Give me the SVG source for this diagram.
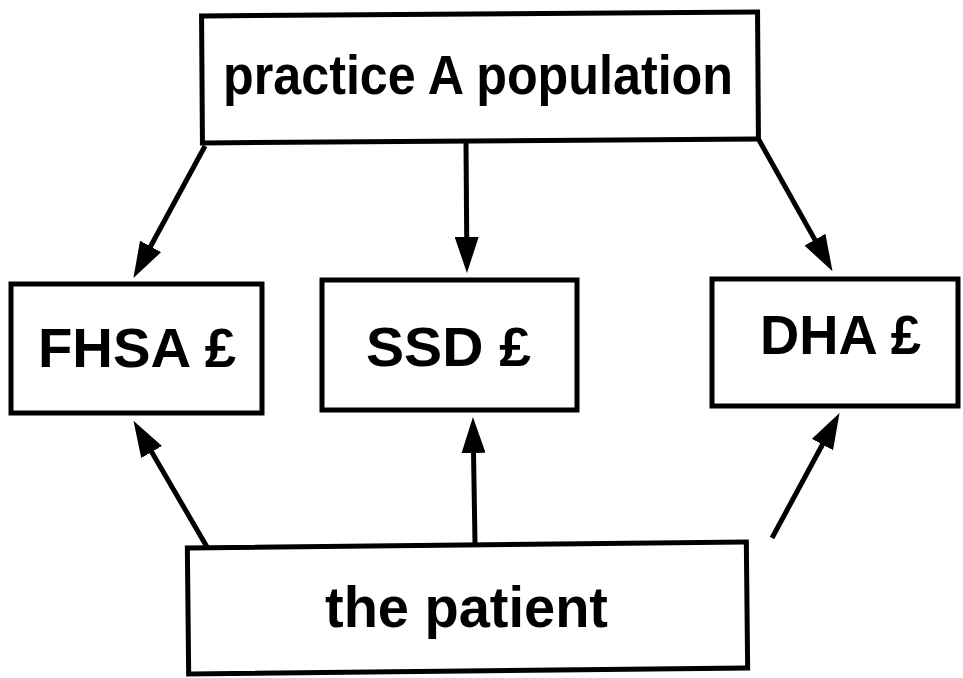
<svg xmlns="http://www.w3.org/2000/svg" width="963" height="678" viewBox="0 0 963 678">
  <style>
    .box { fill: #fff; stroke: #000; stroke-width: 5; }
    .label { font-family: "Liberation Sans", Arial, Helvetica, sans-serif; font-weight: bold; fill: #000; }
    .conn { stroke: #000; stroke-width: 5; fill: none; marker-end: url(#head); }
  </style>
  <defs>
    <marker id="head" viewBox="0 0 36 24" refX="1" refY="12" markerWidth="36" markerHeight="24" markerUnits="userSpaceOnUse" orient="auto">
      <path d="M0,0 L36,12 L0,24 Z" fill="#000"/>
    </marker>
  </defs>
  <rect width="963" height="678" fill="#fff"/>

  <g id="connectors">
    <line class="conn" x1="205" y1="146" x2="150.1" y2="247.3"/>
    <line class="conn" x1="466" y1="141" x2="466.7" y2="238"/>
    <line class="conn" x1="759" y1="140" x2="815.4" y2="240.6"/>
    <line class="conn" x1="207" y1="547" x2="151.1" y2="451.1"/>
    <line class="conn" x1="475" y1="543" x2="473.5" y2="452"/>
    <line class="conn" x1="772" y1="538" x2="822.9" y2="443.7"/>
  </g>

  <g id="practice">
    <rect class="box" x="202" y="14" width="556" height="127" transform="rotate(-0.4 480 78)"/>
    <text class="label" x="223" y="94" font-size="55" textLength="510" lengthAdjust="spacingAndGlyphs">practice A population</text>
  </g>

  <g id="fhsa">
    <rect class="box" x="11" y="284" width="251" height="129"/>
    <text class="label" x="38" y="367" font-size="56" textLength="198" lengthAdjust="spacingAndGlyphs">FHSA £</text>
  </g>

  <g id="ssd">
    <rect class="box" x="322" y="280" width="255" height="130"/>
    <text class="label" x="366" y="366" font-size="56" textLength="165" lengthAdjust="spacingAndGlyphs">SSD £</text>
  </g>

  <g id="dha">
    <rect class="box" x="712" y="279" width="246" height="127"/>
    <text class="label" x="760" y="354" font-size="55" textLength="161" lengthAdjust="spacingAndGlyphs">DHA £</text>
  </g>

  <g id="patient">
    <rect class="box" x="188" y="545" width="559" height="126" transform="rotate(-0.6 467 608)"/>
    <text class="label" x="325" y="627" font-size="57" textLength="283" lengthAdjust="spacingAndGlyphs">the patient</text>
  </g>
</svg>
